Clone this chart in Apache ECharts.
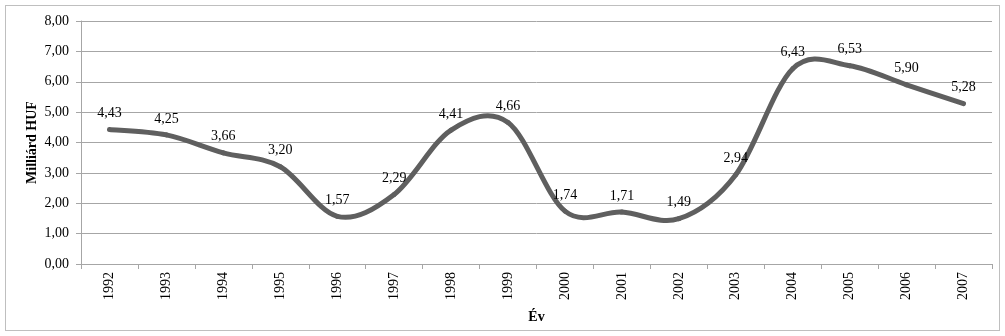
<!DOCTYPE html>
<html>
<head>
<meta charset="utf-8">
<script src="https://cdn.jsdelivr.net/npm/echarts@6/dist/echarts.min.js"></script>
<style>
  html, body { margin: 0; padding: 0; background: #ffffff; }
  #frame { position: absolute; left: 5px; top: 5px; width: 995px; height: 326px; border: 1px solid #bfbfbf; box-sizing: border-box; }
  #chart { width: 1005px; height: 336px; position: absolute; left: 0; top: 0; }
</style>
</head>
<body>
<div id="frame"></div>
<div id="chart"></div>
<script>
// Years on the category axis
const years = ['1992', '1993', '1994', '1995', '1996', '1997', '1998', '1999',
               '2000', '2001', '2002', '2003', '2004', '2005', '2006', '2007'];
// Amounts in billion HUF
const values = [4.43, 4.25, 3.66, 3.20, 1.57, 2.29, 4.41, 4.66,
                1.74, 1.71, 1.49, 2.94, 6.43, 6.53, 5.90, 5.28];
// Value axis range
const yMin = 0;
const yMax = 8;
const yStep = 1;

const fmt = v => v.toFixed(2).replace('.', ',');
const serif = '"Liberation Serif", "Times New Roman", serif';
const lineColor = '#5f5f5f';

// Each item draws the cubic segment from its point to the next one
// (Catmull-Rom style control points from the neighbouring points)
// plus the value label above its own point.
function renderItem(params, api) {
  const i = params.dataIndex;
  const n = values.length;
  const clamp = k => Math.max(0, Math.min(n - 1, k));
  const pt = k => api.coord([clamp(k), values[clamp(k)]]);
  const children = [];
  if (i < n - 1) {
    const p0 = pt(i - 1), p1 = pt(i), p2 = pt(i + 1), p3 = pt(i + 2);
    const c1 = [p1[0] + (p2[0] - p0[0]) / 6, p1[1] + (p2[1] - p0[1]) / 6];
    const c2 = [p2[0] - (p3[0] - p1[0]) / 6, p2[1] - (p3[1] - p1[1]) / 6];
    children.push({
      type: 'bezierCurve',
      shape: { x1: p1[0], y1: p1[1], cpx1: c1[0], cpy1: c1[1], cpx2: c2[0], cpy2: c2[1], x2: p2[0], y2: p2[1] },
      style: { stroke: lineColor, lineWidth: 5, fill: null, lineCap: 'round' },
      z2: 1
    });
  }
  const p = pt(i);
  children.push({
    type: 'text',
    x: p[0],
    y: p[1] - 16,
    style: {
      text: fmt(values[i]),
      fontFamily: serif,
      fontSize: 14,
      fill: '#000',
      align: 'center',
      verticalAlign: 'middle'
    },
    z2: 10
  });
  return { type: 'group', children: children, silent: true };
}

const chart = echarts.init(document.getElementById('chart'), null, { renderer: 'canvas' });
chart.setOption({
  animation: false,
  backgroundColor: 'transparent',
  grid: { left: 81, right: 13, top: 21, bottom: 72, containLabel: false },
  xAxis: {
    type: 'category',
    data: years,
    boundaryGap: true,
    name: 'Év',
    nameLocation: 'middle',
    nameGap: 46,
    nameTextStyle: { fontFamily: serif, fontSize: 14, fontWeight: 'bold', color: '#000' },
    axisLine: { lineStyle: { color: '#a6a6a6', width: 1 } },
    axisTick: { show: true, alignWithLabel: false, length: 5, lineStyle: { color: '#a6a6a6' } },
    axisLabel: { rotate: 90, margin: 8, fontFamily: serif, fontSize: 14, color: '#000', interval: 0 }
  },
  yAxis: {
    type: 'value',
    min: yMin, max: yMax, interval: yStep,
    name: 'Milliárd HUF',
    nameLocation: 'middle',
    nameGap: 42,
    nameMoveOverlap: false,
    nameRotate: 90,
    nameTextStyle: { fontFamily: serif, fontSize: 14, fontWeight: 'bold', color: '#000' },
    axisLine: { show: true, lineStyle: { color: '#a6a6a6', width: 1 } },
    axisTick: { show: true, length: 5, inside: false, lineStyle: { color: '#a6a6a6' } },
    splitLine: { show: true, lineStyle: { color: '#a6a6a6', width: 1 } },
    axisLabel: { formatter: v => fmt(v), margin: 12, fontFamily: serif, fontSize: 14, color: '#000' }
  },
  series: [
    {
      type: 'custom',
      renderItem: renderItem,
      data: values.map((v, i) => [i, v]),
      clip: false
    }
  ]
});
</script>
</body>
</html>
